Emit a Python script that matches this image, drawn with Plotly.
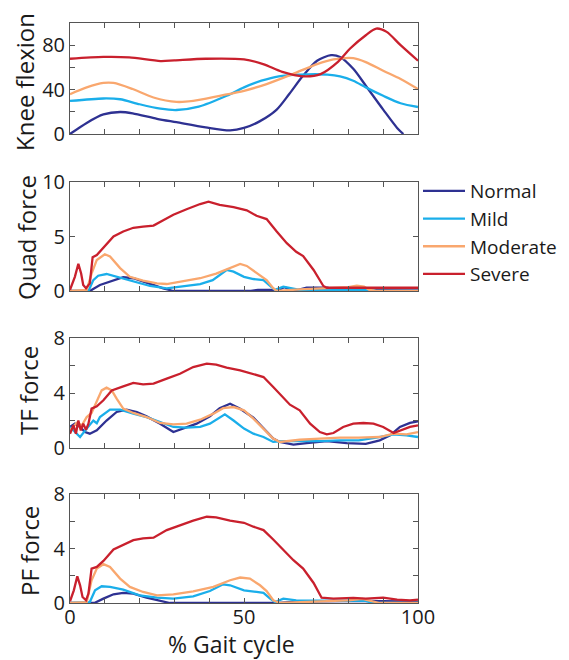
import plotly.graph_objects as go

# Gait-cycle curves, stored as (% gait cycle, value) pairs per group
knee_normal = [(0, 0), (4.8, 10), (9.6, 17.6), (14.4, 19.8), (18, 18.6), (25, 13.7), (30.6, 10.6),
               (39, 6), (46, 3.3), (50, 5.5), (54.6, 11.6), (59.4, 22), (63, 36), (67, 52.6),
               (71, 66), (75, 71), (77.6, 69.4), (81.4, 58.7), (85, 43.5), (90, 22), (94, 5.5), (95.8, 0)]
knee_mild = [(0, 29.8), (9.6, 32), (14.4, 31.3), (20, 26.8), (26, 22.8), (30.6, 21.6), (37, 24.6),
             (45, 34.4), (50, 42), (55, 48), (60, 52), (66, 53.5), (74, 53.5), (77.6, 52),
             (81.4, 48), (85, 42), (90, 34.4), (95, 27.7), (100, 24.3)]
knee_moderate = [(0, 35.9), (4.8, 42), (9.6, 46), (12.5, 46), (18, 40.5), (24, 32.9), (30.6, 28.9),
                 (35.4, 29.8), (43, 34.4), (50, 38.9), (56.5, 45), (64, 54), (71, 63), (75.7, 67.2),
                 (81.4, 68.4), (85, 64.8), (90, 57), (95, 49.6), (100, 40.5)]
knee_severe = [(0, 67.8), (9.6, 69.4), (17, 69), (26, 65.7), (30, 66.3), (39, 67.8), (50, 67.2),
               (55.5, 63), (61, 56), (67, 52), (72, 54), (77, 65), (80.5, 77), (85, 89), (88, 95),
               (91, 92), (95, 80), (100, 66)]

quad_normal = [(0, 0), (5.7, 0), (8.6, 0.55), (12.5, 1.0), (15.3, 1.26), (18.2, 1.17), (23, 0.64),
               (26.8, 0.25), (29.7, 0), (52, 0), (54, 0.1), (57.5, 0.1), (59.4, 0), (61.5, 0.35),
               (63, 0.2), (65, 0.05), (68, 0.3), (74, 0.3), (76, 0.1), (100, 0.05)]
quad_mild = [(0, 0), (5.3, 0), (6.7, 1.0), (8.1, 1.4), (10.5, 1.56), (13.4, 1.3), (18.2, 0.86),
             (23, 0.46), (27.8, 0.25), (31.6, 0.4), (37.4, 0.64), (41, 1.0), (45, 1.93), (47, 1.78),
             (50, 1.3), (52.7, 1.1), (55.6, 1.0), (57.5, 0.46), (58.9, 0.1), (61.3, 0.4), (64, 0.25),
             (66, 0.1), (87, 0.1), (88, 0), (100, 0)]
quad_moderate = [(0, 0), (4.8, 0.1), (6.2, 1.6), (7.7, 2.85), (10, 3.37), (11.5, 3.16), (14.4, 2.1),
                 (17.2, 1.3), (21, 0.95), (25, 0.7), (27.8, 0.64), (32.6, 0.92), (37.4, 1.17),
                 (42, 1.6), (47, 2.24), (48.9, 2.48), (50.8, 2.3), (53.6, 1.63), (56.5, 1.0),
                 (58.4, 0.25), (59.4, 0), (66, 0.15), (75, 0.25), (80, 0.35), (82.4, 0.5),
                 (84.5, 0.4), (86, 0.1), (88, 0), (100, 0)]
quad_severe = [(0, 0.1), (1.4, 1.3), (2.4, 2.5), (3.2, 1.6), (3.8, 0.55), (4.6, 0.25), (5.7, 0.7),
               (6.5, 3.1), (7.7, 3.3), (9.6, 4.0), (12.5, 5.0), (15.3, 5.46), (18.2, 5.8), (21, 5.9),
               (24, 6.0), (26.8, 6.5), (29.7, 7.0), (33.5, 7.5), (37.4, 7.98), (39.8, 8.2), (43, 7.9),
               (47, 7.7), (50.8, 7.4), (53.6, 6.9), (56.5, 6.6), (59.4, 5.46), (62.3, 4.39),
               (65, 3.6), (67, 3.2), (70, 1.93), (72.8, 0.46), (73.8, 0.3), (100, 0.3)]

tf_normal = [(0, 1.53), (1.4, 1.77), (2.9, 1.53), (4.3, 1.16), (5.7, 1.04), (7.7, 1.28), (10.5, 2.0),
             (13.4, 2.62), (16.3, 2.79), (19.2, 2.62), (22, 2.3), (25.9, 1.77), (29.7, 1.16),
             (32.6, 1.41), (36.4, 1.77), (40.2, 2.3), (43, 2.9), (46, 3.22), (48.9, 2.86),
             (52.7, 2.2), (55.6, 1.41), (58.4, 0.68), (60.3, 0.44), (64.2, 0.24), (68, 0.36),
             (73.8, 0.5), (79.5, 0.36), (85, 0.3), (89, 0.56), (92, 0.92), (94.8, 1.53),
             (97.7, 1.82), (100, 1.94)]
tf_mild = [(0, 1.53), (1.4, 1.2), (2.9, 0.8), (4.8, 1.41), (6.7, 2.0), (7.7, 1.8), (8.6, 2.25),
           (11.5, 2.79), (14.4, 2.79), (18.2, 2.5), (22, 2.25), (25.9, 1.89), (29.7, 1.53),
           (33.5, 1.48), (37.4, 1.53), (40.2, 1.77), (43, 2.25), (44.5, 2.45), (47, 2.0), (50, 1.41),
           (52.7, 1.04), (55.6, 0.8), (58.4, 0.44), (61.3, 0.5), (66, 0.5), (71.8, 0.5),
           (77.6, 0.56), (83, 0.56), (88, 0.75), (93, 0.99), (96.7, 0.92), (100, 0.8)]
tf_moderate = [(0, 1.28), (1.9, 1.82), (3.4, 1.65), (4.8, 2.25), (6.2, 2.55), (7.7, 3.47),
               (9.1, 4.19), (10.5, 4.39), (12, 4.19), (13.4, 3.59), (15.3, 2.86), (18.2, 2.55),
               (22, 2.25), (25.9, 1.82), (29.7, 1.72), (33.5, 1.77), (37.4, 2.06), (41.2, 2.5),
               (44, 2.9), (47, 2.98), (50, 2.74), (52.7, 2.13), (55.6, 1.41), (58.4, 0.68),
               (60.3, 0.44), (66, 0.6), (71.8, 0.68), (77.6, 0.75), (83, 0.75), (89, 0.8),
               (93, 1.04), (96.7, 0.99), (100, 1.16)]
tf_severe = [(0, 1.04), (1, 1.65), (1.7, 1.04), (2.4, 2.0), (3.1, 1.28), (3.8, 1.77), (4.6, 1.33),
             (5.3, 1.77), (6.2, 2.86), (7.7, 3.03), (9.6, 3.47), (12, 4.19), (15.3, 4.48),
             (18.2, 4.73), (21, 4.63), (24, 4.68), (27.8, 5.04), (31.6, 5.4), (35.4, 5.89),
             (39.3, 6.13), (42, 6.06), (45, 5.84), (48.9, 5.65), (52.7, 5.4), (55.6, 5.16),
             (58.4, 4.44), (61.3, 3.7), (63.2, 3.15), (66, 2.74), (69, 1.77), (71.8, 1.16),
             (73.8, 0.99), (75.7, 1.09), (78.5, 1.53), (81.4, 1.77), (84.3, 1.82), (87.2, 1.77),
             (90, 1.53), (93, 1.09), (94.8, 1.24), (97.7, 1.53), (100, 1.65)]

pf_normal = [(0, 0), (7, 0), (9.6, 0.32), (12.5, 0.64), (15.3, 0.74), (18.2, 0.69), (22, 0.39),
             (25.9, 0.15), (28.7, 0), (60, 0), (65, 0.1), (85, 0.15), (100, 0.1)]
pf_mild = [(0, 0), (5.7, 0.07), (7.2, 0.93), (9.1, 1.23), (11.5, 1.18), (15.3, 0.98), (20, 0.56),
           (25, 0.39), (29.7, 0.32), (35.4, 0.49), (40.2, 0.88), (44, 1.37), (46, 1.3), (50, 0.93),
           (53.6, 0.81), (55.6, 0.74), (57.5, 0.32), (58.9, 0.07), (61.3, 0.32), (65, 0.2),
           (85, 0.15), (87, 0), (100, 0)]
pf_moderate = [(0, 0), (4.8, 0.07), (6.2, 1.67), (7.7, 2.53), (9.6, 2.85), (11.5, 2.65),
               (14.4, 1.79), (17.2, 1.18), (21, 0.81), (25, 0.56), (29.7, 0.64), (35.4, 0.86),
               (41.2, 1.18), (46, 1.67), (48.9, 1.87), (51.7, 1.79), (54.6, 1.3), (56.5, 0.88),
               (58.4, 0.2), (60.3, 0), (70, 0.1), (80, 0.2), (84, 0.3), (87, 0.15), (89, 0), (100, 0)]
pf_severe = [(0, 0.12), (1.1, 0.93), (2.1, 1.96), (2.9, 1.3), (3.6, 0.44), (4.6, 0.2), (5.3, 0.69),
             (6.2, 2.53), (7.7, 2.65), (9.6, 3.09), (12.5, 3.93), (15.3, 4.25), (18.2, 4.61),
             (21, 4.74), (24, 4.79), (27.8, 5.35), (31.6, 5.72), (35.4, 6.04), (39.3, 6.33),
             (42, 6.28), (46, 6.04), (50, 5.89), (52.7, 5.6), (55.6, 5.35), (58.4, 4.66),
             (61.3, 3.88), (64.2, 3.14), (67, 2.53), (70, 1.47), (72.3, 0.39), (75.7, 0.32),
             (81.4, 0.37), (85, 0.32), (90, 0.39), (94, 0.25), (97.7, 0.2), (100, 0.25)]

groups = ["Normal", "Mild", "Moderate", "Severe"]
colors = ["#2e3192", "#1aaeea", "#f9a76e", "#c9202d"]

panel_titles = ["Knee flexion", "Quad force", "TF force", "PF force"]
panel_series = [
    [knee_normal, knee_mild, knee_moderate, knee_severe],
    [quad_normal, quad_mild, quad_moderate, quad_severe],
    [tf_normal, tf_mild, tf_moderate, tf_severe],
    [pf_normal, pf_mild, pf_moderate, pf_severe],
]
y_ranges = [[0, 100], [0, 10], [0, 8], [0, 8]]
y_tickvals = [[0, 20, 40, 60, 80], [0, 5, 10], [0, 2, 4, 6, 8], [0, 2, 4, 6, 8]]
y_ticktext = [["0", "", "40", "", "80"], ["0", "5", "10"], ["0", "", "4", "", "8"], ["0", "", "4", "", "8"]]
x_tickvals = list(range(0, 101, 10))
x_ticktext = ["0", "", "", "", "", "50", "", "", "", "", "100"]

W, H = 569, 660
# vertical extent of each panel in pixels (top, bottom)
panel_px = [(23, 134), (182, 291), (338, 448), (494, 603)]
title_pos = [(24, 82), (26, 237), (28, 391), (29, 551)]
plot_left, plot_right = 70, 418

FONT = "Open Sans, Liberation Sans, Arial, sans-serif"
AXIS_COLOR = "#555555"
TEXT_COLOR = "#1a1a1a"

fig = go.Figure()
layout = dict(
    width=W, height=H,
    margin=dict(l=plot_left, r=W - plot_right, t=0, b=0),
    paper_bgcolor="white", plot_bgcolor="white",
    font=dict(family=FONT, color=TEXT_COLOR, size=20),
    showlegend=True,
    legend=dict(x=1.0, xanchor="left", y=1 - 172 / H, yanchor="top",
                font=dict(size=19, family=FONT, color=TEXT_COLOR),
                bgcolor="rgba(0,0,0,0)", tracegroupgap=0, itemwidth=42),
    annotations=[],
)

for i, (series_list, title) in enumerate(zip(panel_series, panel_titles)):
    ax = "" if i == 0 else str(i + 1)
    for name, color, pts in zip(groups, colors, series_list):
        xs = [p[0] for p in pts]
        ys = [p[1] for p in pts]
        fig.add_trace(go.Scatter(
            x=xs, y=ys, mode="lines", name=name, legendgroup=name,
            showlegend=(i == 1),
            line=dict(color=color, width=2.3, shape="spline" if i == 0 else "linear",
                      smoothing=0.8),
            xaxis="x" + ax, yaxis="y" + ax,
        ))
    top, bottom = panel_px[i]
    layout["xaxis" + ax] = dict(
        domain=[0, 1], range=[0, 100], anchor="y" + ax,
        tickmode="array", tickvals=x_tickvals, ticktext=x_ticktext,
        showticklabels=(i == 3), ticks="inside", ticklen=5, tickcolor=AXIS_COLOR,
        showline=True, linecolor=AXIS_COLOR, linewidth=1, mirror="ticks",
        showgrid=False, zeroline=False, automargin=False,
        tickfont=dict(size=20), ticklabelstandoff=-4,
    )
    if i > 0:
        layout["xaxis" + ax]["matches"] = "x"
    layout["yaxis" + ax] = dict(
        domain=[1 - bottom / H, 1 - top / H], range=y_ranges[i], anchor="x" + ax,
        tickmode="array", tickvals=y_tickvals[i], ticktext=y_ticktext[i],
        ticks="inside", ticklen=5, tickcolor=AXIS_COLOR,
        showline=True, linecolor=AXIS_COLOR, linewidth=1, mirror="ticks",
        showgrid=False, zeroline=False, automargin=False,
        tickfont=dict(size=20),
    )
    tx, ty = title_pos[i]
    layout["annotations"].append(dict(
        text=title, textangle=-90, showarrow=False,
        xref="paper", yref="paper",
        x=(tx - plot_left) / (plot_right - plot_left), y=1 - ty / H,
        xanchor="center", yanchor="middle",
        font=dict(size=24, family=FONT, color=TEXT_COLOR),
    ))

layout["annotations"].append(dict(
    text="% Gait cycle", showarrow=False, xref="paper", yref="paper",
    x=(231 - plot_left) / (plot_right - plot_left), y=1 - 644 / H,
    xanchor="center", yanchor="middle",
    font=dict(size=23, family=FONT, color=TEXT_COLOR),
))

fig.update_layout(**layout)
fig.write_html("out.html")
